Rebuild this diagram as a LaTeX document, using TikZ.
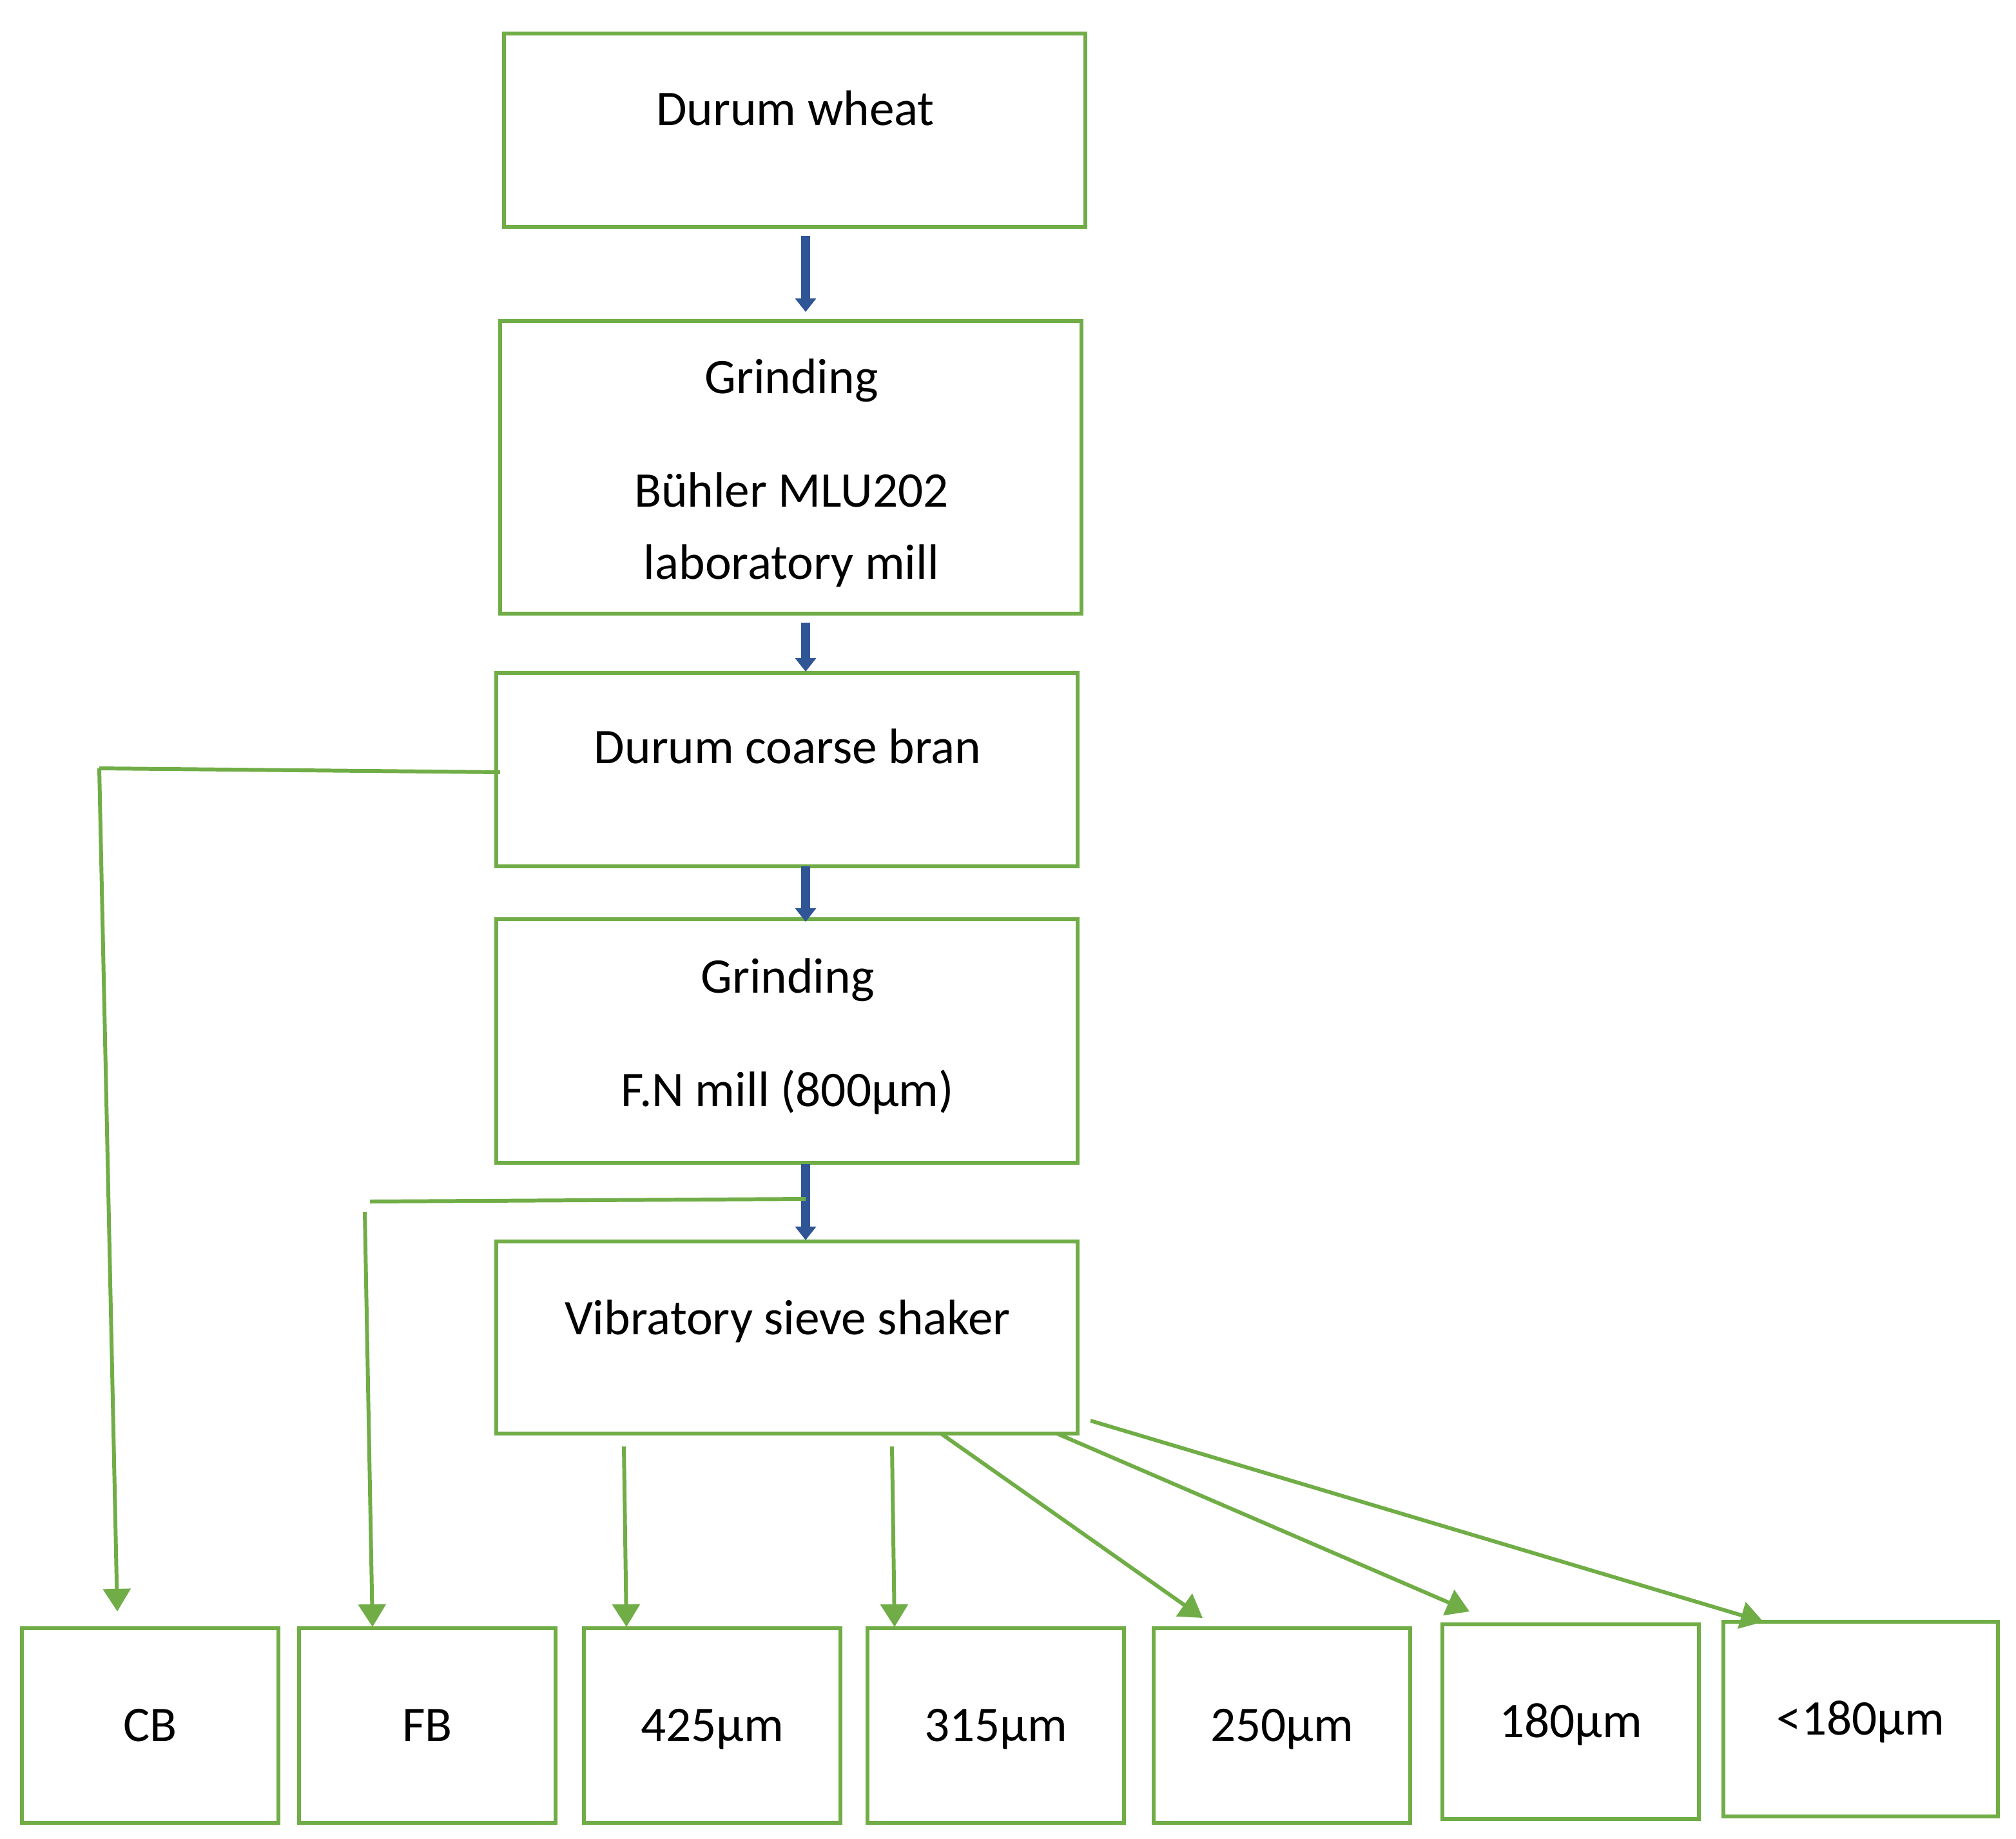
\documentclass[tikz,border=0pt]{standalone}
\usepackage{fontspec}
\setmainfont{Carlito}
\usetikzlibrary{arrows.meta}
\definecolor{gr}{HTML}{70AD47}
\definecolor{bl}{HTML}{2F5597}
\begin{document}
\begin{tikzpicture}[x=0.02cm,y=-0.02cm,
  box/.style={draw=gr,line width=1.7pt},
  txt/.style={font=\fontsize{22}{26}\selectfont,anchor=base},
  gl/.style={draw=gr,line width=1.7pt},
  ga/.style={gl,-{Triangle[width=12pt,length=10pt]}},
  ba/.style={draw=bl,line width=4pt,-{Triangle[width=9pt,length=6pt]}}]
\useasboundingbox (0,0) rectangle (1564,1426);
\draw[box] (391,26) rectangle (842,176) coordinate (b1);
\node[txt] (t1) at (617,97) {Durum wheat};
\draw[box] (388,249) rectangle (839,476);
\node[txt] (t2) at (614,305) {Grinding};
\node[txt] (t3) at (614,393) {Bühler MLU202};
\node[txt] (t4) at (614,449) {laboratory mill};
\draw[box] (385,522) rectangle (836,672);
\node[txt] (t5) at (611,592) {Durum coarse bran};
\draw[box] (385,713) rectangle (836,902);
\node[txt] (t6) at (611,770) {Grinding};
\node[txt] (t7) at (611,858) {F.N mill (800µm)};
\draw[box] (385,963) rectangle (836,1112);
\node[txt] (t8) at (611,1035) {Vibratory sieve shaker};
\foreach \a/\b/\c/\d/\t/\n in {17/1263/216/1414/CB/cb,232/1263/431/1414/FB/fb,453/1263/652/1414/425µm/s1,673/1263/872/1414/315µm/s2,895/1263/1094/1414/250µm/s3,1119/1260/1318/1411/180µm/s4,1337/1258/1550/1409/<180µm/s5}{
  \draw[box] (\a,\b) rectangle (\c,\d);
  \node[txt] (\n) at ({(\a+\c)/2},{(\b+\d)/2+12}) {\t};}
\coordinate (a1) at (625,183); \coordinate (a2) at (625,242);
\coordinate (a3) at (625,483); \coordinate (a4) at (625,521);
\coordinate (a5) at (625,672); \coordinate (a6) at (625,715);
\coordinate (a7) at (625,903); \coordinate (a8) at (625,962);
\draw[ba] (a1)--(a2); \draw[ba] (a3)--(a4); \draw[ba] (a5)--(a6); \draw[ba] (a7)--(a8);
\coordinate (c1) at (388,599); \coordinate (c2) at (77,596); \coordinate (c3) at (91,1250);
\draw[gl] (c1)--(c2); \draw[ga] (c2)--(c3);
\coordinate (f1) at (625,930); \coordinate (f2) at (287,932); \coordinate (f3) at (283,940); \coordinate (f4) at (289,1262);
\draw[gl] (f1)--(f2); \draw[ga] (f3)--(f4);
\coordinate (s1a) at (484,1122); \coordinate (s1b) at (486,1262);
\coordinate (s2a) at (692,1122); \coordinate (s2b) at (694,1262);
\coordinate (s3a) at (730,1112); \coordinate (s3b) at (933,1255);
\coordinate (s4a) at (820,1112); \coordinate (s4b) at (1140,1250);
\coordinate (s5a) at (846,1102); \coordinate (s5b) at (1368,1258);
\foreach \n in {1,...,5}{\draw[ga] (s\n a)--(s\n b);}
\end{tikzpicture}
\end{document}
